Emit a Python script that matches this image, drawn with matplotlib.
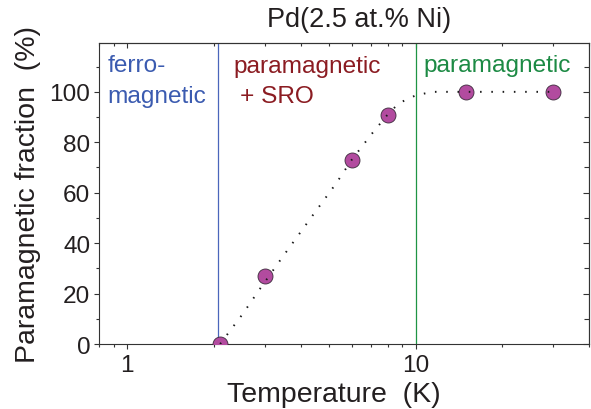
import matplotlib
matplotlib.use("Agg")
import matplotlib.pyplot as plt
from matplotlib.ticker import FixedLocator, NullFormatter, FixedFormatter

plt.rcParams['font.family'] = ['Liberation Sans', 'DejaVu Sans']

# Data
temperature = [2.1, 3.0, 6.0, 8.0, 15.0, 30.0]
para_fraction = [0, 27, 73, 91, 100, 100]

# Guide curve
curve_T = [2.1, 2.26, 2.51, 2.87, 3.45, 4.39, 5.31, 6.0, 7.03, 8.0, 8.75, 10.05, 11.5, 15.0, 30.0]
curve_P = [0, 4.9, 11.8, 21.5, 34.4, 50.9, 63.8, 73, 83.2, 91, 95.5, 98.7, 100, 100, 100]

T_curie = 2.07
T_sro = 10.0

x_major = [1, 10]
x_major_labels = ["1", "10"]
x_minor = [0.8, 0.9, 2, 3, 4, 5, 6, 7, 8, 9, 20, 30, 40]
y_major = [0, 20, 40, 60, 80, 100]
y_minor = [10, 30, 50, 70, 90, 110]

fig = plt.figure(figsize=(5.91, 4.10), dpi=100)
ax = fig.add_axes([0.168, 0.1585, 0.829, 0.735])

ax.set_xscale('log')
ax.set_xlim(0.8, 40)
ax.set_ylim(0, 119.5)

ax.axvline(T_curie, color='#4a66bb', lw=0.9, zorder=1)
ax.axvline(T_sro, color='#1f9444', lw=0.9, zorder=1)

sc = ax.scatter(temperature, para_fraction, s=10.8 ** 2, c='#b24b9f',
                edgecolors='#3a2a3a', linewidths=0.6, zorder=3, clip_on=True)
sc.set_clip_path(ax.patch)
ax.plot(curve_T, curve_P, color='#1a1a1a', lw=1.4, linestyle=(0, (0.8, 5.0)),
        zorder=4)

tc = '#231f20'
ax.xaxis.set_major_locator(FixedLocator(x_major))
ax.xaxis.set_major_formatter(FixedFormatter(x_major_labels))
ax.xaxis.set_minor_locator(FixedLocator(x_minor))
ax.xaxis.set_minor_formatter(NullFormatter())
ax.yaxis.set_major_locator(FixedLocator(y_major))
ax.yaxis.set_minor_locator(FixedLocator(y_minor))

ax.tick_params(axis='both', which='major', labelsize=17.6, labelcolor=tc,
               color='#333333', width=0.8)
ax.tick_params(axis='both', which='minor', color='#333333', width=0.8)
ax.tick_params(axis='x', which='major', direction='out', length=3.5, pad=4)
ax.tick_params(axis='x', which='minor', direction='out', length=2.2)
ax.tick_params(axis='y', which='major', direction='out', length=3.5, pad=3)
ax.tick_params(axis='y', which='minor', direction='out', length=2.2)

# mirror ticks inward on top/right
axt = ax.secondary_xaxis('top')
axt.xaxis.set_major_locator(FixedLocator(x_major))
axt.xaxis.set_minor_locator(FixedLocator(x_minor))
axt.xaxis.set_major_formatter(NullFormatter())
axt.xaxis.set_minor_formatter(NullFormatter())
axt.tick_params(which='major', direction='in', length=3.5, color='#333333', width=0.8)
axt.tick_params(which='minor', direction='in', length=2.5, color='#333333', width=0.8)
axr = ax.secondary_yaxis('right')
axr.yaxis.set_major_locator(FixedLocator(y_major))
axr.yaxis.set_minor_locator(FixedLocator(y_minor))
axr.yaxis.set_major_formatter(NullFormatter())
axr.tick_params(which='major', direction='in', length=4.5, color='#333333', width=0.8)
axr.tick_params(which='minor', direction='in', length=3.5, color='#333333', width=0.8)

for sp in list(ax.spines.values()) + [axt.spines['top'], axr.spines['right']]:
    sp.set_color('#333333')
    sp.set_linewidth(0.8)

ax.set_xlabel('Temperature  (K)', fontsize=20.5, color=tc)
ax.xaxis.set_label_coords(0.478, -0.19)
ax.xaxis.label.set_verticalalignment('baseline')
ax.set_ylabel('Paramagnetic fraction  (%)', fontsize=20.5, color=tc, labelpad=6)
fig.text(0.607, 0.952, 'Pd(2.5 at.% Ni)', fontsize=19.5, color=tc,
         ha='center', va='center')

fs = 17.6
ax.text(0.855, 108.1, 'ferro-', color='#3b5bb0', fontsize=fs, va='baseline')
ax.text(0.855, 96.1, 'magnetic', color='#3b5bb0', fontsize=fs, va='baseline')
ax.text(2.33, 107.7, 'paramagnetic', color='#8b1c22', fontsize=fs, va='baseline')
ax.text(2.46, 95.8, '+ SRO', color='#8b1c22', fontsize=fs, va='baseline')
ax.text(10.66, 108.3, 'paramagnetic', color='#1c8a44', fontsize=fs, va='baseline')

fig.savefig('out.png', dpi=100)
